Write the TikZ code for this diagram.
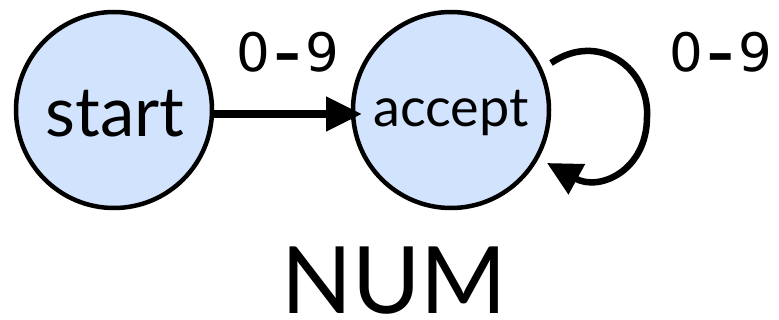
\documentclass[tikz,border=0pt]{standalone}
\usepackage{fontspec}
\setmainfont{Lato}
\newfontfamily\digitfont{DejaVu Sans}
\usetikzlibrary{arrows.meta}
\definecolor{statefill}{RGB}{210,227,253}
\newcommand{\digrange}{0\hspace{0.08em}{\bfseries –}\hspace{0.08em}9}
\begin{document}
\begin{tikzpicture}[x=1pt,y=-1pt,
  state/.style={circle,draw=black,line width=4.5pt,fill=statefill,minimum size=196pt,inner sep=0pt},
  edgelbl/.style={anchor=base,font=\digitfont\fontsize{53}{60}\selectfont},
  trans/.style={line width=8pt,-{Triangle[length=36pt,width=33pt]}}]
\useasboundingbox (0,0) rectangle (779,320);
\node[state] (s) at (114,110) {};
\node[state] (a) at (451,110) {};
\node[anchor=base,font=\fontsize{69}{76}\selectfont] (st) at (115,137) {start};
\node[anchor=base,font=\fontsize{54}{60}\selectfont] (ac) at (451,127) {accept};
\coordinate (sa) at (213,114);
\coordinate (at) at (362,114);
\draw[trans] (sa) -- (at);
\coordinate (ls) at (551,63);
\coordinate (lr) at (647,117);
\coordinate (le) at (547,163);
\draw[line width=6.5pt,-{Triangle[length=34pt,width=33pt]}] (ls) .. controls (600,30) and (650,70) .. (lr) .. controls (647,170) and (600,192) .. (le);
\node[edgelbl] (l1) at (288,72) {\digrange};
\node[edgelbl] (l2) at (721,72) {\digrange};
\node[anchor=base,inner sep=0pt,font=\fontsize{93}{100}\selectfont] (num) at (394,314) {NUM};
\end{tikzpicture}
\end{document}
